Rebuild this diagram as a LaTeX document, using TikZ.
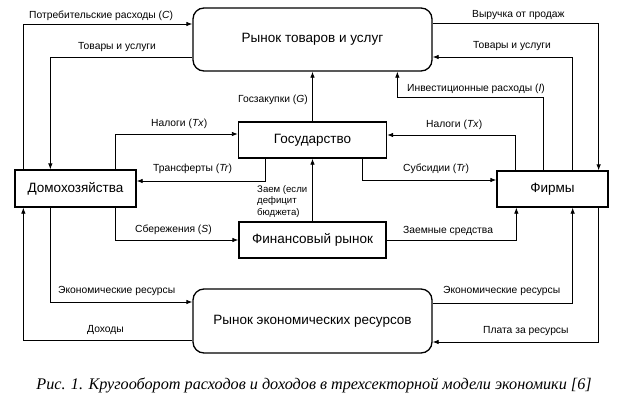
\documentclass[tikz,border=0pt]{standalone}
\usepackage{fontspec}
\setmainfont{Liberation Sans}
\newfontfamily\capfont{Liberation Serif}
\usetikzlibrary{arrows.meta}

\tikzset{
  box/.style={draw, line width=1.3pt, minimum height=36pt, inner sep=0pt, font=\fontsize{13.5}{15}\selectfont},
  market/.style={box, rounded corners=11pt, minimum width=239pt, minimum height=63pt},
  flow/.style={-{Latex[length=6pt,width=4.5pt]}, line width=0.8pt},
  lbl/.style={font=\fontsize{10.3}{11.5}\selectfont, inner sep=0pt, anchor=west},
}

\begin{document}
\begin{tikzpicture}[x=1pt,y=-1pt]
        \useasboundingbox (0,0) rectangle (627,405);
        % markets and sectors
        \node[market] (goods) at (312.5,39.5) {Рынок товаров и услуг};
        \node[market, minimum height=64pt] (res) at (312.5,321) {Рынок экономических ресурсов};
        \node[box, minimum width=148pt] (gov) at (312.5,140) {Государство};
        \node[box, minimum width=147pt] (fin) at (312.5,240) {Финансовый рынок};
        \node[box, minimum width=121pt, minimum height=37pt] (hh) at (75.5,188.5) {Домохозяйства};
        \node[box, minimum width=111pt] (firms) at (552.5,189) {Фирмы};

        % households <-> goods market
        \draw[flow] ([xshift=9pt]hh.north west) |- ([yshift=15.5pt]goods.west);
        \draw[flow] ([yshift=-17.5pt]goods.west) -| ([xshift=36pt]hh.north west);
        % firms <-> goods market
        \draw[flow] ([yshift=16.5pt]goods.east) -| ([xshift=-10pt]firms.north east);
        \draw[flow] ([xshift=-36pt]firms.north east) |- ([yshift=-17.5pt]goods.east);
        \draw[flow] ([xshift=47pt]firms.north west) -- ++(0,-73) -| ([xshift=205pt]goods.south west);
        \draw[flow] (gov.north) -- (goods.south);
        % government
        \draw[flow] ([xshift=-21pt]hh.north east) |- ([yshift=6pt]gov.west);
        \draw[flow] ([xshift=28pt]gov.south west) |- ([yshift=7.5pt]hh.east);
        \draw[flow] ([xshift=19pt]firms.north west) |- ([yshift=5pt]gov.east);
        \draw[flow] ([xshift=-25pt]gov.south east) |- ([yshift=9pt]firms.west);
        % financial market
        \draw[flow] (fin.north) -- (gov.south);
        \draw[flow] ([xshift=-21pt]hh.south east) |- (fin.west);
        \draw[flow] (fin.east) -| ([xshift=20pt]firms.south west);
        % resource market
        \draw[flow] ([xshift=36pt]hh.south west) |- ([yshift=19pt]res.west);
        \draw[flow] ([yshift=-19pt]res.west) -| ([xshift=9pt]hh.south west);
        \draw[flow] ([yshift=18pt]res.east) -| ([xshift=-36pt]firms.south east);
        \draw[flow] ([xshift=-10pt]firms.south east) |- ([yshift=-21pt]res.east);

        % labels
        \node[lbl] (lc) at (29,16) {Потребительские расходы (\textit{C})};
        \node[lbl] (lgoodsh) at (78,47.5) {Товары и услуги};
        \node[lbl] (lrev) at (472,15) {Выручка от продаж};
        \node[lbl] (lgoodsf) at (473,46) {Товары и услуги};
        \node[lbl] (linv) at (407,89) {Инвестиционные расходы (\textit{I})};
        \node[lbl] (lg) at (238,100) {Госзакупки (\textit{G})};
        \node[lbl] (ltxh) at (151,124) {Налоги (\textit{Tx})};
        \node[lbl] (ltr) at (153,169) {Трансферты (\textit{Tr})};
        \node[lbl] (ltxf) at (426,125) {Налоги (\textit{Tx})};
        \node[lbl] (lsub) at (403,169) {Субсидии (\textit{Tr})};
        \node[lbl, align=left, font=\fontsize{9.6}{11.5}\selectfont] (lloan) at (257,201.5) {Заем (если\\дефицит\\бюджета)};
        \node[lbl] (ls) at (135,229.5) {Сбережения (\textit{S})};
        \node[lbl] (lfunds) at (403,231) {Заемные средства};
        \node[lbl] (lresh) at (58,290.5) {Экономические ресурсы};
        \node[lbl] (linc) at (87,329.5) {Доходы};
        \node[lbl] (lresf) at (443,291) {Экономические ресурсы};
        \node[lbl] (lpay) at (483,331.5) {Плата за ресурсы};

        % caption
        \node[font=\capfont\itshape\fontsize{16.2}{18}\selectfont, inner sep=0pt] (cap) at (314,385)
            {Рис. 1. Кругооборот расходов и доходов в трехсекторной модели экономики [6]};
    \end{tikzpicture}
\end{document}
